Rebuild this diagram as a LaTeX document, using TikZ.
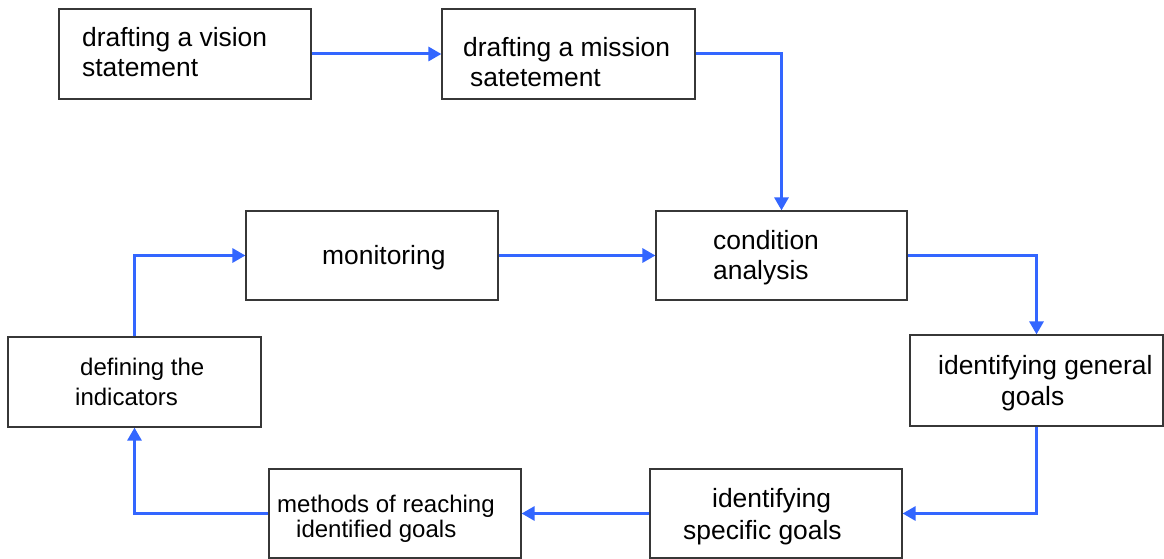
\documentclass[tikz,border=0pt]{standalone}
\usepackage{fontspec}
\setmainfont{Liberation Sans}
\usetikzlibrary{arrows.meta}
\definecolor{flow}{RGB}{51,102,255}
\definecolor{edgegray}{RGB}{55,55,55}
\begin{document}
\begin{tikzpicture}[x=1pt,y=-1pt,
  box/.style={draw=edgegray, line width=1.2pt, rectangle, inner sep=0pt, fill=white},
  big/.style={anchor=base west, inner sep=0pt, font=\fontsize{26.4}{30}\selectfont},
  small/.style={anchor=base west, inner sep=0pt, font=\fontsize{24}{28}\selectfont},
  conn/.style={draw=flow, line width=3pt, -{Triangle[length=13pt,width=14pt]}}]
\useasboundingbox (0,0) rectangle (1164,559);

% boxes
\node[box, minimum width=252pt, minimum height=90pt] (b1) at (185,54) {};
\node[box, minimum width=253pt, minimum height=90pt] (b2) at (568.5,54) {};
\node[box, minimum width=252pt, minimum height=89pt] (b3) at (372,255.5) {};
\node[box, minimum width=251pt, minimum height=89pt] (b4) at (781.5,255.5) {};
\node[box, minimum width=253pt, minimum height=91pt] (b5) at (1036.5,380.5) {};
\node[box, minimum width=253pt, minimum height=90pt] (b6) at (134.5,382) {};
\node[box, minimum width=252pt, minimum height=89pt] (b7) at (395,513.5) {};
\node[box, minimum width=252pt, minimum height=89pt] (b8) at (776,513.5) {};

% texts
\node[big] (t1a) at (82,47) {drafting a vision};
\node[big] (t1b) at (82,77) {statement};
\node[big] (t2a) at (463,57) {drafting a mission};
\node[big] (t2b) at (470,87) {satetement};
\node[big] (t3a) at (322,264) {monitoring};
\node[big] (t4a) at (713,249) {condition};
\node[big] (t4b) at (713,279) {analysis};
\node[big] (t5a) at (938,374) {identifying general};
\node[big] (t5b) at (1001,405) {goals};
\node[small] (t6a) at (80,375) {defining the};
\node[small] (t6b) at (75,405) {indicators};
\node[small] (t7a) at (277,512) {methods of reaching};
\node[small] (t7b) at (296,537) {identified goals};
\node[big] (t8a) at (712,507) {identifying};
\node[big] (t8b) at (683,539) {specific goals};

% connectors
\draw[conn] (b1.east) -- (b2.west);
\draw[conn] (b2.east) -| (b4.north);
\draw[conn] (b3.east) -- (b4.west);
\draw[conn] (b4.east) -| (b5.north);
\draw[conn] (b5.south) |- (b8.east);
\draw[conn] (b8.west) -- (b7.east);
\draw[conn] (b7.west) -| (b6.south);
\draw[conn] (b6.north) |- (b3.west);
\end{tikzpicture}
\end{document}
